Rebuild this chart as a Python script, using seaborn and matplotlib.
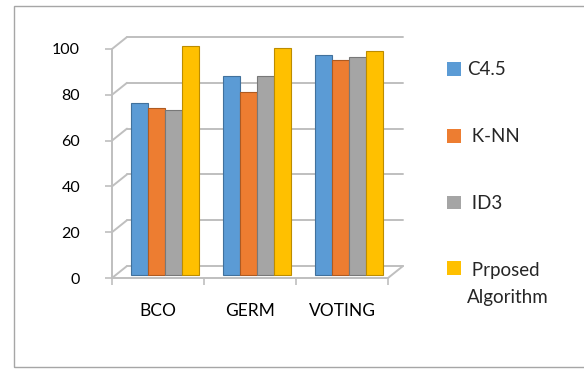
import matplotlib
matplotlib.use("Agg")
import matplotlib.pyplot as plt
import seaborn as sns
import pandas as pd
import numpy as np
from matplotlib.patches import Rectangle, Patch
from matplotlib.legend_handler import HandlerPatch

categories = ["BCO", "GERM", "VOTING"]
series = ["C4.5", "K-NN", "ID3", "Prposed Algorithm"]
legend_labels = ["C4.5", " K-NN", " ID3", " Prposed\nAlgorithm"]
c45 = [75, 87, 96]
knn = [73, 80, 94]
id3 = [72, 87, 95]
proposed = [100, 99, 98]
yticks = [0, 20, 40, 60, 80, 100]
colors = ["#5B9BD5", "#ED7D31", "#A5A5A5", "#FFC000"]
edges = ["#41719C", "#AE5A21", "#787878", "#BC8C00"]

rows = []
for s, vals in zip(series, [c45, knn, id3, proposed]):
    for c, v in zip(categories, vals):
        rows.append({"Dataset": c, "Method": s, "Value": v})
df = pd.DataFrame(rows)

sns.set_theme(style="white")
plt.rcParams["font.family"] = ["Lato", "DejaVu Sans"]

W, H = 584, 369
fig = plt.figure(figsize=(W / 100, H / 100), dpi=100)
ax = fig.add_axes([112 / W, (H - 278) / H, 276 / W, 229 / H])

sns.barplot(data=df, x="Dataset", y="Value", hue="Method", order=categories,
            hue_order=series, palette=colors, width=0.74, ax=ax,
            saturation=1, legend=False)
ax.set_xlim(-0.5, 2.5)
ax.set_ylim(0, 100)

# depth offset in data units (15 px right, 12 px up)
p0 = ax.transData.transform((0, 0))
back = ax.transData.inverted().transform(p0 + np.array([15, 12]))
mid = ax.transData.inverted().transform(p0 + np.array([7, 3]))
dx, dy = back[0], back[1]
mx, my = mid[0], mid[1]

gc = "#BFBFBF"
lw = 1.4
for v in yticks:
    ax.plot([-0.5 + dx, 2.5 + dx], [v + dy, v + dy], color=gc, lw=lw, clip_on=False, zorder=0.5)
    ax.plot([-0.5, -0.5 + dx], [v, v + dy], color=gc, lw=lw, clip_on=False, zorder=0.5)
ax.plot([-0.5, 2.5], [0, 0], color=gc, lw=lw, clip_on=False, zorder=0.5)
ax.plot([2.5, 2.5 + dx], [0, dy], color=gc, lw=lw, clip_on=False, zorder=0.5)
ax.plot([-0.5, -0.5], [0, 100], color=gc, lw=lw, clip_on=False, zorder=0.5)

# shift bars to mid depth
for bar in ax.patches:
    bar.set_x(bar.get_x() + mx)
    bar.set_y(bar.get_y() + my)
    bar.set_clip_on(False)
    bar.set_zorder(2)
for k, cont in enumerate(ax.containers):
    for bar in cont:
        bar.set_edgecolor(edges[k])
        bar.set_linewidth(0.8)

for sp in ax.spines.values():
    sp.set_visible(False)

ax.set_yticks(yticks)
ax.set_yticklabels([str(v) for v in yticks], fontsize=11.5, color="black")
ax.tick_params(axis="y", which="major", left=True, length=5, width=1.2, color=gc, pad=18)
ax.set_xticks(range(len(categories)))
ax.set_xticklabels(categories, fontsize=12.5, color="black")
ax.tick_params(axis="x", which="major", length=0, pad=18)
ax.set_xticks([-0.5, 0.5, 1.5, 2.5], minor=True)
ax.tick_params(axis="x", which="minor", bottom=True, length=5, width=1.2, color=gc, direction="out")
ax.set_xlabel("")
ax.set_ylabel("")
ax.grid(False)

LEG_FS = 13.5
LINE_GAP_PT = 12


def top_square(legend, orig_handle, xdescent, ydescent, width, height, fontsize):
    return Rectangle((-xdescent, -ydescent + LINE_GAP_PT), width, height)


handles = [Patch(facecolor=c, edgecolor="none") for c in colors]
handler_map = {handles[-1]: HandlerPatch(patch_func=top_square)}
leg = fig.legend(handles, legend_labels, loc="upper left",
                 bbox_to_anchor=(438 / W, 1 - 52 / H), frameon=False,
                 fontsize=LEG_FS, handlelength=0.75, handleheight=0.75,
                 handletextpad=0.3, labelspacing=2.66, borderpad=0,
                 handler_map=handler_map)
leg.get_texts()[-1].set_linespacing(1.7)

fig.patches.append(Rectangle((14 / W, 2 / H), 1.0, 1 - 8 / H, transform=fig.transFigure,
                             fill=False, edgecolor="#A6A6A6", lw=1.0))

fig.savefig("out.png", dpi=100)
